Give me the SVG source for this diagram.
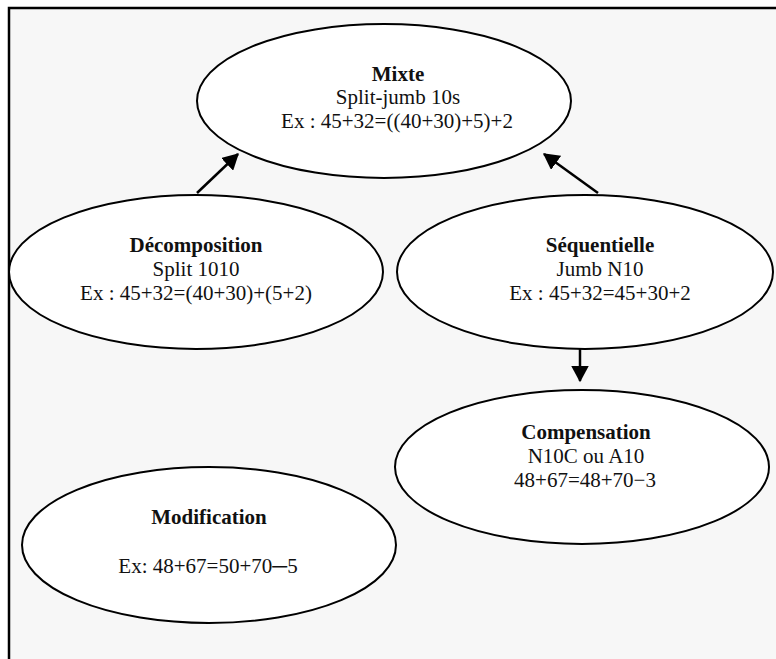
<svg xmlns="http://www.w3.org/2000/svg" width="776" height="659" viewBox="0 0 776 659">
<style>
.node{fill:#ffffff;stroke:#000000;stroke-width:2}
.t{font-family:"Liberation Serif","Times New Roman",serif;font-size:21px;fill:#111111;text-anchor:middle}
.b{font-weight:bold}
.edge{stroke:#000000;stroke-width:2.5;fill:none;marker-end:url(#arr)}
</style>
<defs>
<marker id="arr" markerWidth="7" markerHeight="7" refX="6" refY="3.5" orient="auto" markerUnits="strokeWidth">
<path d="M0,0 L6.5,3.5 L0,7 Z" fill="#000000"/>
</marker>
</defs>
<rect x="0" y="0" width="776" height="659" fill="#ffffff"/>
<rect x="9" y="8" width="767" height="651" fill="#f7f7f7"/>
<path d="M9,659 L9,8 L776,8" fill="none" stroke="#000000" stroke-width="2.5"/>
<g id="connectors">
<line class="edge" x1="197" y1="193" x2="238" y2="154"/>
<line class="edge" x1="598" y1="193" x2="544" y2="154"/>
<line class="edge" x1="580" y1="345" x2="580" y2="381"/>
</g>
<g id="mixte">
<ellipse class="node" cx="384" cy="101" rx="187" ry="77"/>
<text class="t b" x="398" y="81">Mixte</text>
<text class="t" x="398" y="104">Split-jumb 10s</text>
<text class="t" x="397" y="128">Ex : 45+32=((40+30)+5)+2</text>
</g>
<g id="decomposition">
<ellipse class="node" cx="196" cy="272" rx="187" ry="77"/>
<text class="t b" x="196" y="252">Décomposition</text>
<text class="t" x="196" y="276">Split 1010</text>
<text class="t" x="196" y="300">Ex : 45+32=(40+30)+(5+2)</text>
</g>
<g id="sequentielle">
<ellipse class="node" cx="585" cy="272" rx="188" ry="77"/>
<text class="t b" x="600" y="252">Séquentielle</text>
<text class="t" x="600" y="276">Jumb N10</text>
<text class="t" x="600" y="300">Ex : 45+32=45+30+2</text>
</g>
<g id="compensation">
<ellipse class="node" cx="582" cy="467" rx="187" ry="77"/>
<text class="t b" x="586" y="439">Compensation</text>
<text class="t" x="586" y="463">N10C ou A10</text>
<text class="t" x="585" y="487">48+67=48+70−3</text>
</g>
<g id="modification">
<ellipse class="node" cx="209" cy="545" rx="187" ry="78"/>
<text class="t b" x="209" y="524">Modification</text>
<text class="t" x="208" y="573">Ex: 48+67=50+70─5</text>
</g>
</svg>
